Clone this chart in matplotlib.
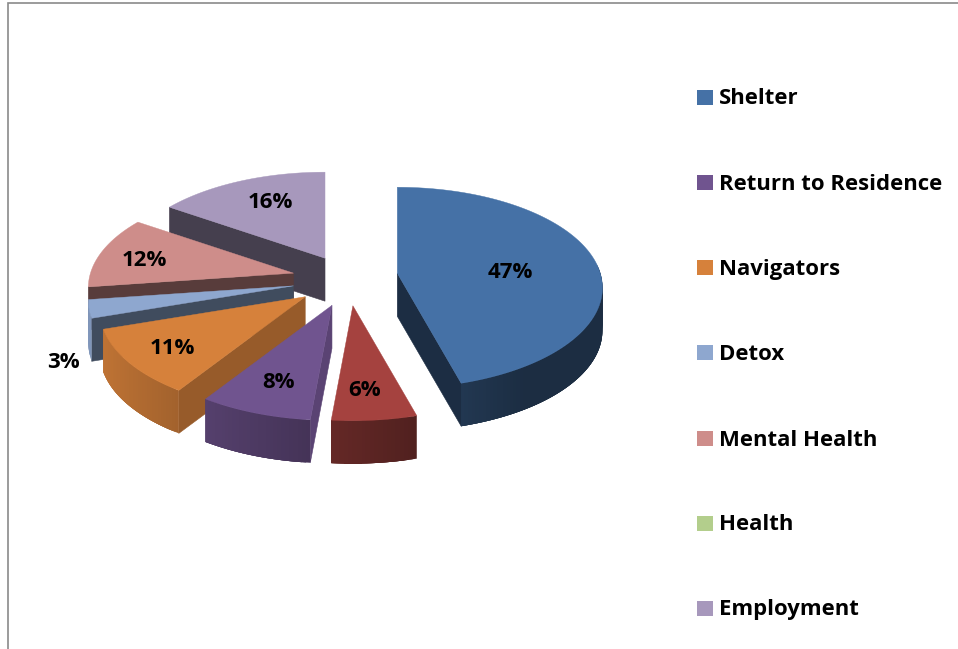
import numpy as np
import matplotlib
matplotlib.use("Agg")
import matplotlib.pyplot as plt
from matplotlib.collections import PolyCollection
from matplotlib.colors import to_rgb
from matplotlib.patches import Polygon, Rectangle

# ---- data ----
slice_names = ["Shelter", "Other", "Return to Residence", "Navigators", "Detox", "Mental Health", "Employment"]
slice_values = [47, 6, 8, 11, 3, 12, 16]
slice_colors = ["#4571A6", "#A5423F", "#70548F", "#D6813B", "#8EA7CF", "#CE8D8A", "#A798BC"]
slice_explode = [0.28, 0.21, 0.21, 0.21, 0.21, 0.21, 0.21]
legend_names = ["Shelter", "Return to Residence", "Navigators", "Detox", "Mental Health", "Health", "Employment"]
legend_colors = ["#4571A6", "#70548F", "#D6813B", "#8EA7CF", "#CE8D8A", "#B3CE8C", "#A798BC"]

# ---- layout (pixels of the 958x649 canvas) ----
W, H = 958, 649
CX, CY = 341, 280
RX, RY = 203, 98.4
PERSP = 0.144
DEPTH = 43
apex_nudge = [(0, -2), (8, 0), (5, 1), (-2, 1), (-6, 0), (-6, -1), (4, 1)]
label_xy = [(510, 273), (365, 390), (279, 383), (172, 348), (63, 363), (144, 260), (270, 202)]
legend_y = [97, 182, 267, 352, 438, 523, 608]
FONT = ["Open Sans", "DejaVu Sans"]

fig = plt.figure(figsize=(W / 100, H / 100), dpi=100, facecolor="white")
ax = fig.add_axes([0, 0, 1, 1])
ax.set_xlim(0, W)
ax.set_ylim(H, 0)
ax.axis("off")

# frame of the source document
ax.plot([8.5, 8.5, W], [H, 2.5, 2.5], color="#8a8a8a", lw=1.2, solid_joinstyle="miter", zorder=1)


def shade(color, k):
    return tuple(min(1, c * k) for c in to_rgb(color))


def proj(theta, apex):
    u, v = np.sin(theta), np.cos(theta)
    w = 1 + PERSP * v
    return np.column_stack([apex[0] + RX * u / w, apex[1] - RY * v / w])


fracs = np.array(slice_values, float) / sum(slice_values)
edges = np.concatenate([[0], np.cumsum(fracs)]) * 2 * np.pi
slices = []
for i in range(len(slice_values)):
    t0, t1 = edges[i], edges[i + 1]
    m = 0.5 * (t0 + t1)
    e = slice_explode[i]
    apex = (CX + RX * e * np.sin(m) + apex_nudge[i][0], CY - RY * 1.25 * e * np.cos(m) + apex_nudge[i][1])
    slices.append((i, t0, t1, m, apex))

z = 2
for i, t0, t1, m, apex in sorted(slices, key=lambda s: np.cos(s[3]), reverse=True):
    col = slice_colors[i]
    arc_t = np.linspace(t0, t1, max(8, int((t1 - t0) * 60)))
    arc = proj(arc_t, apex)
    a = np.array(apex)

    # radial faces that look towards the viewer
    for theta, normal in ((t0, t0 - np.pi / 2), (t1, t1 + np.pi / 2)):
        if np.cos(normal) < 0:
            rim_pt = proj(np.array([theta]), apex)[0]
            quad = [a, rim_pt, rim_pt + [0, DEPTH], a + [0, DEPTH]]
            nd = np.degrees(normal) % 360
            k = np.interp(nd, [90, 125, 165, 260], [0.82, 0.70, 0.43, 0.40])
            ax.add_patch(Polygon(quad, closed=True, fc=shade(col, k), ec=shade(col, k), lw=0.4, zorder=z))
            z += 1

    # curved rim, shaded from left (light) to right (dark); segments overlap to hide seams
    polys, cols = [], []
    n = len(arc_t)
    for j in range(n - 1):
        tm = 0.5 * (arc_t[j] + arc_t[j + 1])
        limit = 0.1 if np.sin(tm) > 0 else -0.14
        if np.cos(tm) > limit:
            continue
        p, q = arc[j], arc[min(j + 4, n - 1)]
        polys.append([p, q, q + [0, DEPTH], p + [0, DEPTH]])
        cols.append(shade(col, max(0.40, 0.58 - 0.33 * np.sin(tm))))
    if polys:
        ax.add_collection(PolyCollection(polys, facecolors=cols, edgecolors="none", zorder=z))
        z += 1

    # top face
    ax.add_patch(Polygon(np.vstack([a, arc]), closed=True, fc=col, ec=col, lw=0.3, zorder=z))
    z += 1

# percent labels
for i, (x, y) in enumerate(label_xy):
    ax.text(x, y, f"{slice_values[i]}%", ha="center", va="center", family=FONT,
            weight="bold", fontsize=16, color="black", zorder=100)

# legend
for name, c, y in zip(legend_names, legend_colors, legend_y):
    ax.add_patch(Rectangle((697, y - 7.5), 16, 15, fc=c, ec="none", zorder=100))
    ax.text(719, y + 2, name, ha="left", va="center", family=FONT, weight="bold",
            fontsize=15.9, color="black", zorder=100)

fig.savefig("out.png", dpi=100, facecolor="white")
